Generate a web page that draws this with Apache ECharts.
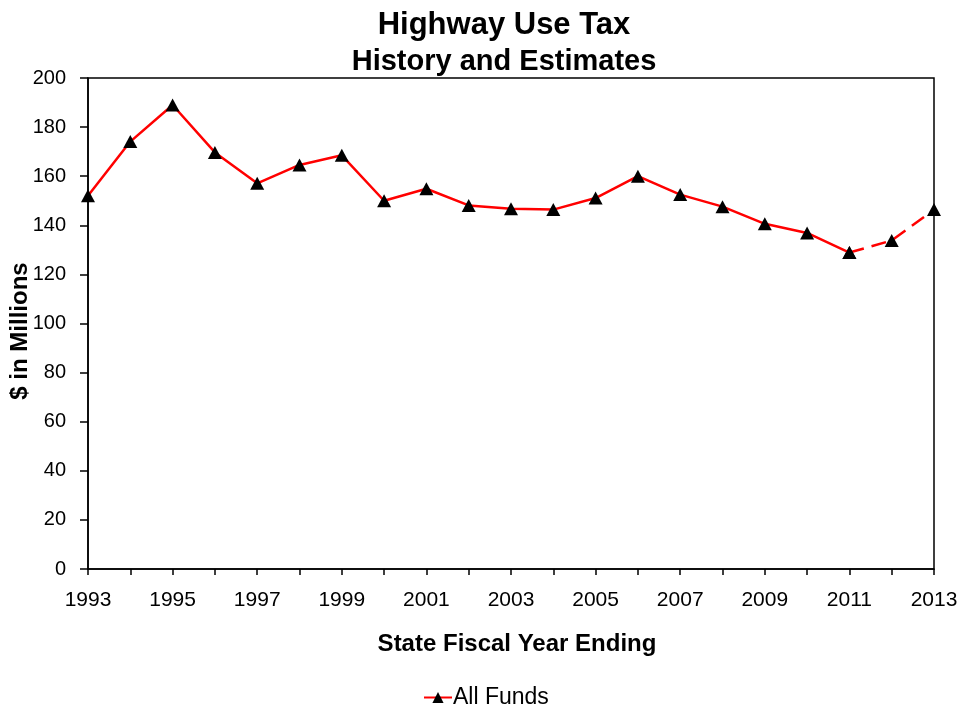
<!DOCTYPE html>
<html>
<head>
<meta charset="utf-8">
<script src="https://cdn.jsdelivr.net/npm/echarts@6/dist/echarts.min.js"></script>
<style>
  html, body { margin: 0; padding: 0; background: #fff; }
  #chart { width: 961px; height: 709px; }
</style>
</head>
<body>
<div id="chart"></div>
<script>
// Fiscal years on the x axis
const years = ['1993','1994','1995','1996','1997','1998','1999','2000','2001','2002',
               '2003','2004','2005','2006','2007','2008','2009','2010','2011','2012','2013'];
// Highway use tax, all funds, $ millions (history through 2011, estimates after)
const allFunds = [152, 174.1, 189, 169.7, 157.1, 164.6, 168.5, 150, 154.9, 148.1,
                  146.7, 146.4, 151.1, 160, 152.5, 147.6, 140.6, 136.9, 128.9, 133.8, 146.4];
const lastActualYear = '2011';
const yTicks = { min: 0, max: 200, step: 20 };

const splitIdx = years.indexOf(lastActualYear);
const actual = allFunds.map((v, i) => (i <= splitIdx ? v : null));
const estimate = allFunds.map((v, i) => (i >= splitIdx ? v : null));

const FONT = '"Liberation Sans", Arial, sans-serif';
const chart = echarts.init(document.getElementById('chart'), null, { renderer: 'canvas' });

chart.setOption({
  animation: false,
  backgroundColor: '#fff',
  textStyle: { fontFamily: FONT, color: '#000' },
  title: [
    { text: 'Highway Use Tax', left: 499, top: 5, textAlign: 'center',
      textStyle: { fontFamily: FONT, fontSize: 31, fontWeight: 'bold', color: '#000' } },
    { text: 'History and Estimates', left: 499, top: 42, textAlign: 'center',
      textStyle: { fontFamily: FONT, fontSize: 29, fontWeight: 'bold', color: '#000' } }
  ],
  grid: { left: 88, right: 27, top: 78, bottom: 140, show: true,
          containLabel: false, outerBoundsMode: 'none',
          borderColor: '#000', borderWidth: 1.5, backgroundColor: 'transparent' },
  legend: {
    data: ['All Funds'], left: 418, top: 681, itemWidth: 28, itemHeight: 14, itemGap: 10,
    textStyle: { fontFamily: FONT, fontSize: 23, color: '#000', padding: [0, 0, 0, -4] }
  },
  xAxis: {
    type: 'category', data: years, boundaryGap: false,
    name: 'State Fiscal Year Ending', nameLocation: 'middle', nameGap: 63,
    nameMoveOverlap: false,
    nameTextStyle: { fontFamily: FONT, fontSize: 24, fontWeight: 'bold', color: '#000', padding: [0, 0, 0, 12] },
    axisLine: { lineStyle: { color: '#000', width: 1.5 } },
    axisTick: { show: true, interval: 0, length: 6, lineStyle: { color: '#000', width: 1.5 } },
    axisLabel: { interval: 1, margin: 21, fontFamily: FONT, fontSize: 21, color: '#000' },
    splitLine: { show: false }
  },
  yAxis: {
    type: 'value', min: yTicks.min, max: yTicks.max, interval: yTicks.step,
    name: '$ in Millions', nameLocation: 'middle', nameGap: 56, nameRotate: 90,
    nameMoveOverlap: false,
    nameTextStyle: { fontFamily: FONT, fontSize: 24, fontWeight: 'bold', color: '#000', padding: [0, 15, 0, 0] },
    axisLine: { show: true, lineStyle: { color: '#000', width: 1.5 } },
    axisTick: { show: true, length: 8, lineStyle: { color: '#000', width: 1.5 } },
    axisLabel: { margin: 22, fontFamily: FONT, fontSize: 20, color: '#000' },
    splitLine: { show: false }
  },
  series: [
    {
      name: 'All Funds', type: 'line', data: actual,
      symbol: 'triangle', symbolSize: [14, 13],
      itemStyle: { color: '#000' },
      lineStyle: { color: '#ff0000', width: 2.5 },
      connectNulls: false, z: 3
    },
    {
      name: 'All Funds (estimate)', type: 'line', data: estimate,
      symbol: 'triangle', symbolSize: [14, 13],
      itemStyle: { color: '#000' },
      lineStyle: { color: '#ff0000', width: 2.5, type: [15, 8] },
      connectNulls: false, z: 2
    }
  ]
});
</script>
</body>
</html>
